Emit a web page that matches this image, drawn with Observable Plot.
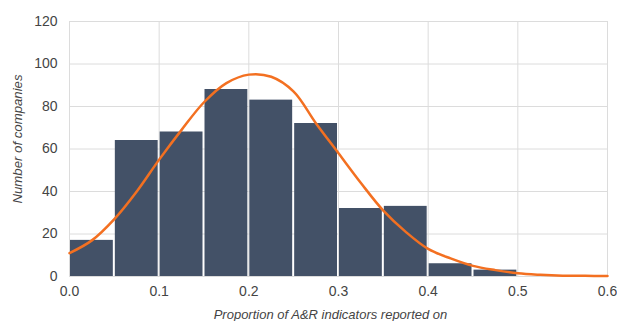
<!DOCTYPE html>
<html>
<head>
<meta charset="utf-8">
<script src="https://cdn.jsdelivr.net/npm/d3@7"></script>
<script src="https://cdn.jsdelivr.net/npm/@observablehq/plot@0.6"></script>
<style>
  html, body { margin: 0; padding: 0; background: #fff; }
  #chart { width: 617px; height: 321px; }
</style>
</head>
<body>
<div id="chart"></div>
<script>
const binStarts = [0, 0.05, 0.1, 0.15, 0.2, 0.25, 0.3, 0.35, 0.4, 0.45];
const binWidth = 0.05;
const counts = [17, 64, 68, 88, 83, 72, 32, 33, 6, 3];

const curveX = [0, 0.025, 0.05, 0.075, 0.1, 0.125, 0.15, 0.175, 0.2, 0.225, 0.25, 0.275, 0.3, 0.325, 0.35, 0.375, 0.4, 0.425, 0.45, 0.475, 0.5, 0.525, 0.55, 0.575, 0.6];
const curveY = [11, 17, 27, 40, 55, 69, 82, 91, 95, 94, 87, 72, 58, 44, 31, 21, 13, 8.5, 5, 3, 1.5, 0.8, 0.4, 0.3, 0.2];

const xTicks = [0, 0.1, 0.2, 0.3, 0.4, 0.5, 0.6];
const yTicks = [0, 20, 40, 60, 80, 100, 120];

const bars = binStarts.map((s, i) => ({x1: s, x2: s + binWidth, count: counts[i]}));
const curve = curveX.map((x, i) => ({x, y: curveY[i]}));

const chart = Plot.plot({
  width: 617,
  height: 321,
  marginLeft: 69,
  marginRight: 10,
  marginTop: 21,
  marginBottom: 45,
  style: {fontFamily: "Arial, 'Liberation Sans', sans-serif", fontSize: "14px", color: "#444", background: "#fff"},
  x: {domain: [0, 0.6], ticks: xTicks, tickFormat: d => d === 0 ? "0" : String(d), label: null},
  y: {domain: [0, 120], ticks: yTicks, label: null},
  marks: [
    Plot.gridX(xTicks, {stroke: "#dcdcdc", strokeOpacity: 1, strokeWidth: 1}),
    Plot.gridY(yTicks, {stroke: "#dcdcdc", strokeOpacity: 1, strokeWidth: 1}),
    Plot.axisX(xTicks, {tickSize: 0, tickPadding: 10, fontSize: 14, fill: "#444", label: null}),
    Plot.axisY(yTicks, {tickSize: 0, tickPadding: 12, fontSize: 14, fill: "#444", label: null}),
    Plot.rectY(bars, {x1: "x1", x2: "x2", y: "count", fill: "#435167", insetLeft: 1, insetRight: 1}),
    Plot.line(curve, {x: "x", y: "y", stroke: "#f37021", strokeWidth: 2.5, curve: "catmull-rom"}),
    Plot.text(["Number of companies"], {frameAnchor: "left", textAnchor: "middle", dx: -52, dy: -10, rotate: -90, fontStyle: "italic", fontSize: 13.2, fill: "#444"}),
    Plot.text(["Proportion of A&R indicators reported on"], {frameAnchor: "bottom", dx: -8, dy: 42, fontStyle: "italic", fontSize: 13, fill: "#444"})
  ]
});
document.getElementById("chart").appendChild(chart);
</script>
</body>
</html>
